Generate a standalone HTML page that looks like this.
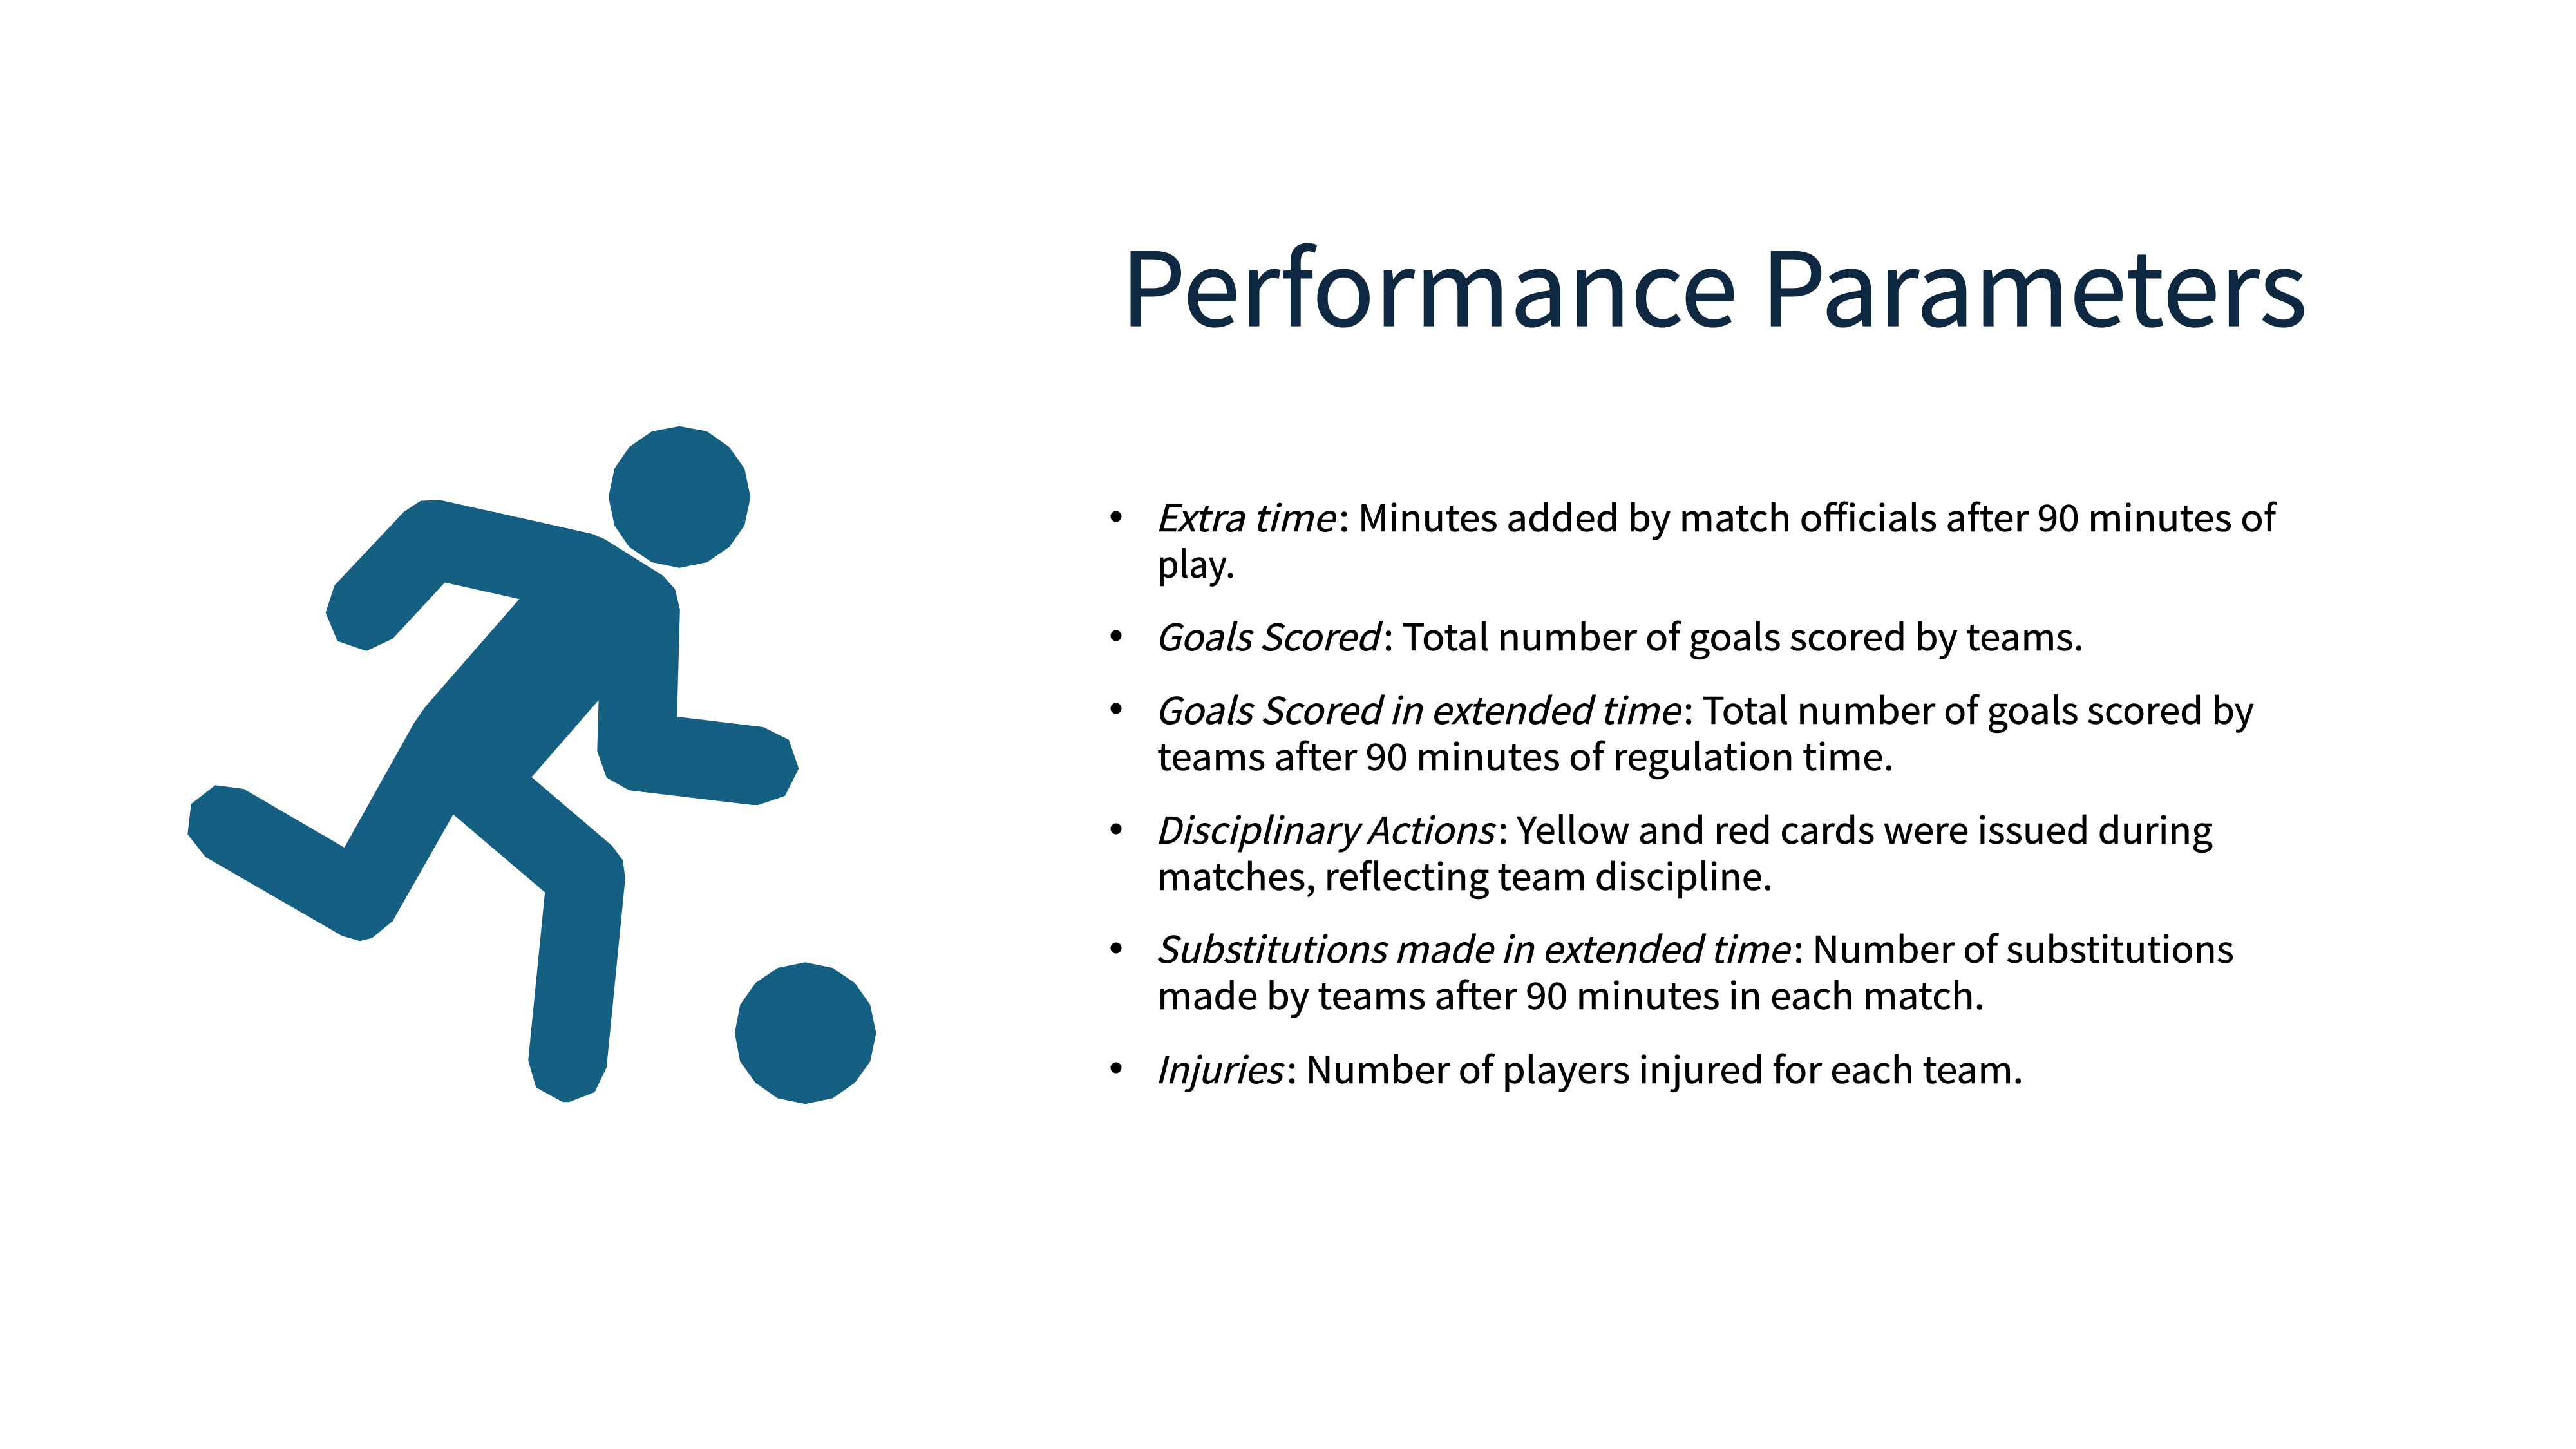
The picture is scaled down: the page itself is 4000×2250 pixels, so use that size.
<!DOCTYPE html>
<html lang="en">
<head>
<meta charset="utf-8">
<title>Performance Parameters</title>
<style>
html,body{margin:0;padding:0;background:#fff;width:4000px;height:2250px;overflow:hidden}
svg{display:block}
.body-line{font-family:"Noto Sans CJK SC","Liberation Sans",sans-serif;font-size:57px;fill:#000;stroke:#000;stroke-width:.6px}
.em{font-style:italic}
.title{font-family:"Noto Sans CJK SC","Liberation Sans",sans-serif;font-size:158px;fill:#0E2841;stroke:#0E2841;stroke-width:1.2px}
</style>
</head>
<body>
<svg xmlns="http://www.w3.org/2000/svg" width="4000" height="2250" viewBox="0 0 4000 2250">
  <rect width="4000" height="2250" fill="#ffffff"/>

  <g fill="#156082" transform="translate(250 620) scale(0.7653 0.7334)">
    <polygon points="1052,57 1108,68 1153,101 1184,147 1196,207 1184,267 1153,313 1108,345 1052,357 996,345 950,313 920,267 908,207 920,147 950,101 996,68"/>
    <polygon points="334,452 352,394 493,238 527,215 565,213 875,285 900,296 1018,373 1043,402 1053,445 1047,672 1222,694 1274,721 1294,782 1266,840 1212,859 1200,859 950,828 904,801 885,745 888,637 752,800 915,945 937,976 942,1014 904,1415 880,1467 828,1488 815,1488 761,1457 745,1400 779,1044 593,879 470,1105 428,1141 403,1147 367,1136 90,969 54,921 61,857 110,817 168,825 372,949 513,686 537,650 727,423 576,388 470,507 417,533 358,512"/>
    <polygon points="1307,1192 1363,1204 1408,1236 1439,1282 1451,1342 1439,1402 1408,1447 1363,1480 1307,1492 1251,1480 1206,1447 1175,1402 1164,1342 1175,1282 1206,1236 1251,1204"/>
  </g>

  <text class="title" x="1740" y="506" textLength="1843" lengthAdjust="spacingAndGlyphs">Performance Parameters</text>

  <g>
    <circle cx="1733" cy="802" r="8.5" fill="#000"/>
    <text class="body-line em" x="1794" y="825" textLength="278" lengthAdjust="spacingAndGlyphs">Extra time</text>
    <text class="body-line" x="2079" y="825" textLength="1455" lengthAdjust="spacingAndGlyphs">: Minutes added by match officials after 90 minutes of</text>
    <text class="body-line" x="1797" y="897" textLength="121" lengthAdjust="spacingAndGlyphs">play.</text>

    <circle cx="1733" cy="987" r="8.5" fill="#000"/>
    <text class="body-line em" x="1794" y="1010" textLength="347" lengthAdjust="spacingAndGlyphs">Goals Scored</text>
    <text class="body-line" x="2148" y="1010" textLength="1088" lengthAdjust="spacingAndGlyphs">: Total number of goals scored by teams.</text>

    <circle cx="1733" cy="1100" r="8.5" fill="#000"/>
    <text class="body-line em" x="1794" y="1124" textLength="814" lengthAdjust="spacingAndGlyphs">Goals Scored in extended time</text>
    <text class="body-line" x="2614" y="1124" textLength="886" lengthAdjust="spacingAndGlyphs">: Total number of goals scored by</text>
    <text class="body-line" x="1797" y="1196" textLength="1144" lengthAdjust="spacingAndGlyphs">teams after 90 minutes of regulation time.</text>

    <circle cx="1733" cy="1287" r="8.5" fill="#000"/>
    <text class="body-line em" x="1794" y="1310" textLength="525" lengthAdjust="spacingAndGlyphs">Disciplinary Actions</text>
    <text class="body-line" x="2326" y="1310" textLength="1110" lengthAdjust="spacingAndGlyphs">: Yellow and red cards were issued during</text>
    <text class="body-line" x="1797" y="1382" textLength="956" lengthAdjust="spacingAndGlyphs">matches, reflecting team discipline.</text>

    <circle cx="1733" cy="1472" r="8.5" fill="#000"/>
    <text class="body-line em" x="1794" y="1495" textLength="984" lengthAdjust="spacingAndGlyphs">Substitutions made in extended time</text>
    <text class="body-line" x="2785" y="1495" textLength="684" lengthAdjust="spacingAndGlyphs">: Number of substitutions</text>
    <text class="body-line" x="1797" y="1567" textLength="1285" lengthAdjust="spacingAndGlyphs">made by teams after 90 minutes in each match.</text>

    <circle cx="1733" cy="1658" r="8.5" fill="#000"/>
    <text class="body-line em" x="1794" y="1682" textLength="197" lengthAdjust="spacingAndGlyphs">Injuries</text>
    <text class="body-line" x="1998" y="1682" textLength="1144" lengthAdjust="spacingAndGlyphs">: Number of players injured for each team.</text>
  </g>
</svg>
</body>
</html>
